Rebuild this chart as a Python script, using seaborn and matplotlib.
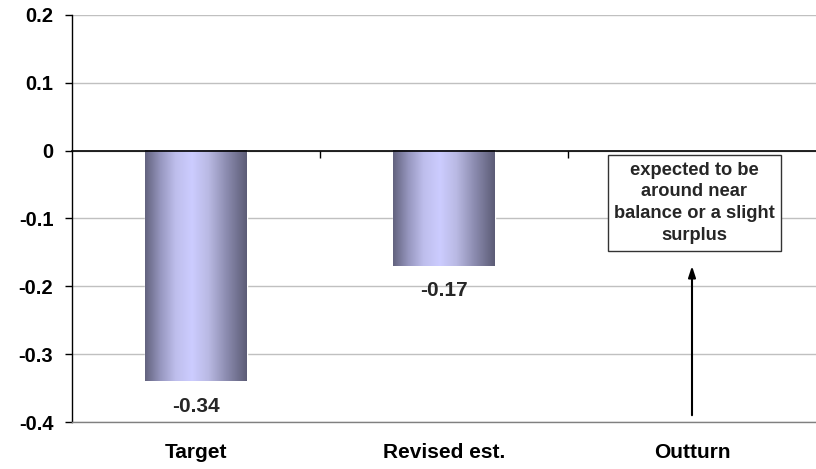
import numpy as np
import pandas as pd
import seaborn as sns
import matplotlib.pyplot as plt
from matplotlib.colors import LinearSegmentedColormap

categories = ["Target", "Revised est.", "Outturn"]
values = [-0.34, -0.17]
bar_labels = ["-0.34", "-0.17"]
yticks = [0.2, 0.1, 0, -0.1, -0.2, -0.3, -0.4]
ytick_labels = ["0.2", "0.1", "0", "-0.1", "-0.2", "-0.3", "-0.4"]
note = "expected to be\naround near\nbalance or a slight\nsurplus"
note_y = -0.077
arrow_from = -0.39
arrow_to = -0.17

sns.set_theme(style="white")
plt.rcParams['font.family'] = ['Liberation Sans', 'DejaVu Sans']
plt.rcParams['font.weight'] = 'bold'

fig = plt.figure(figsize=(8.16, 4.69), dpi=100)
ax = fig.add_axes([72 / 816, 1 - 422 / 469, 1 - 72 / 816, (422 - 15) / 469])

df = pd.DataFrame({"cat": categories[:len(values)], "val": values})
sns.barplot(data=df, x="cat", y="val", order=categories, width=0.41,
            color="#ccccff", ax=ax, zorder=3)

# shaded bars (cylinder-like gradient)
stops = [(0.0, (98/255, 98/255, 126/255)), (0.15, (150/255, 150/255, 190/255)),
         (0.3, (190/255, 190/255, 236/255)), (0.46, (204/255, 204/255, 255/255)),
         (0.62, (186/255, 186/255, 228/255)), (0.8, (140/255, 140/255, 176/255)),
         (1.0, (92/255, 92/255, 118/255))]
cmap = LinearSegmentedColormap.from_list("barshade", stops)
grad = np.linspace(0, 1, 256)[None, :]
for p in ax.patches:
    x0, w = p.get_x(), p.get_width()
    y0, h = p.get_y(), p.get_height()
    ax.imshow(grad, cmap=cmap, extent=[x0, x0 + w, y0 + h, y0], aspect='auto',
              interpolation='bilinear', zorder=3.5)

ax.bar_label(ax.containers[0], labels=bar_labels, padding=11, fontsize=15,
             fontweight='bold')

ax.set_xlim(-0.5, 2.5)
ax.set_ylim(-0.4, 0.2)
ax.set_yticks(yticks, ytick_labels)
ax.tick_params(axis='y', left=True, direction='out', length=5, width=1,
               pad=8.5, labelsize=14.5, color='black', labelcolor='black')
ax.yaxis.grid(True, color='#c0c0c0', lw=1)
ax.set_axisbelow(True)
ax.set_xticks(range(len(categories)), categories)
ax.tick_params(axis='x', length=0, pad=15, labelsize=15, labelcolor='black')
ax.set_xlabel("")
ax.set_ylabel("")
for s in ['top', 'right']:
    ax.spines[s].set_visible(False)
ax.spines['left'].set_color('black')
ax.spines['left'].set_linewidth(1)
ax.spines['bottom'].set_color('#808080')
ax.spines['bottom'].set_linewidth(1)

# zero line with category separator ticks
secax = ax.secondary_xaxis(2 / 3)
secax.set_xticks([0.5, 1.5])
secax.tick_params(direction='in', length=5, width=1, color='black',
                  labeltop=False, labelbottom=False)
for s in secax.spines.values():
    s.set_color('black')
    s.set_linewidth(1.2)
secax.set_zorder(5)

ax.annotate("", xy=(2, arrow_to), xytext=(2, arrow_from),
            arrowprops=dict(arrowstyle='-|>,head_length=0.55,head_width=0.18',
                            color='black', lw=1.5, shrinkA=0, shrinkB=0))
ax.text(2.01, note_y, note, ha='center', va='center', fontsize=13.2,
        fontweight='bold', linespacing=1.37, multialignment='center',
        bbox=dict(boxstyle='square,pad=0.35', fc='white', ec='#333333', lw=1),
        zorder=6)

fig.savefig("out.png", dpi=100)
